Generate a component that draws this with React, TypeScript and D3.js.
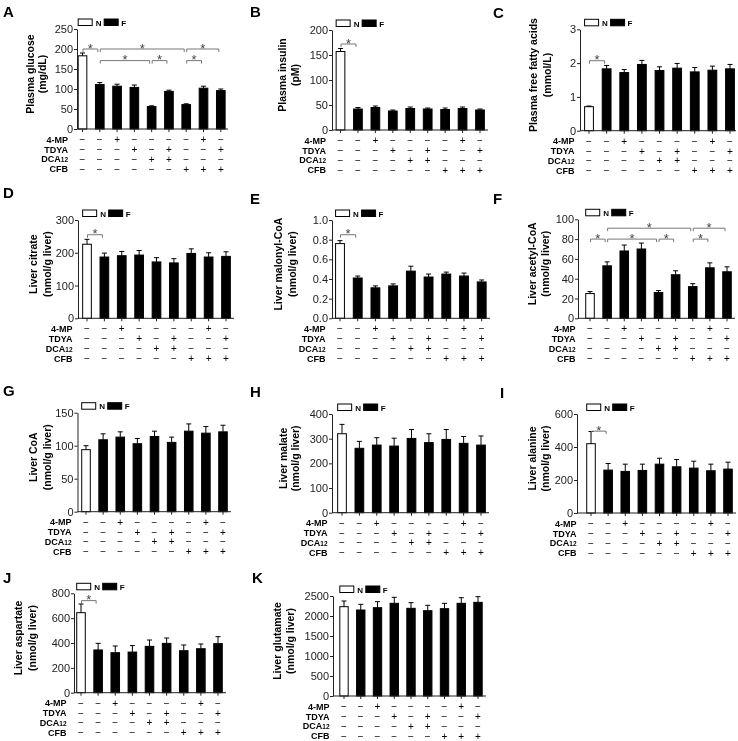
import { useEffect, useRef } from "react"
import * as d3 from "d3"

// treatment table (one entry per bar)
const treatmentNames = ["4-MP", "TDYA", "DCA", "CFB"]
const mp4 = ["−", "−", "+", "−", "−", "−", "−", "+", "−"]
const tdya = ["−", "−", "−", "+", "−", "+", "−", "−", "+"]
const dca12 = ["−", "−", "−", "−", "+", "+", "−", "−", "−"]
const cfb = ["−", "−", "−", "−", "−", "−", "+", "+", "+"]
const groups = ["N", "F", "F", "F", "F", "F", "F", "F", "F"]

// bar values and SEM
const glucose = [183, 111, 107, 104, 56, 94, 61, 102, 96]
const glucoseErr = [7, 5, 5, 6, 2, 3, 2, 5, 4]
const insulin = [157, 42, 45, 38, 43, 42, 41, 43, 40]
const insulinErr = [6, 3, 3, 2, 3, 2, 3, 3, 2]
const ffa = [0.71, 1.83, 1.72, 1.96, 1.78, 1.85, 1.74, 1.79, 1.83]
const ffaErr = [0.02, 0.1, 0.09, 0.12, 0.11, 0.14, 0.13, 0.12, 0.13]
const citrate = [226, 187, 191, 193, 172, 169, 198, 187, 189]
const citrateErr = [15, 12, 13, 14, 13, 13, 14, 13, 14]
const malonyl = [0.76, 0.41, 0.31, 0.33, 0.48, 0.42, 0.45, 0.43, 0.37]
const malonylErr = [0.03, 0.02, 0.02, 0.02, 0.05, 0.03, 0.02, 0.03, 0.02]
const acetyl = [25, 53, 68, 70, 26, 44, 32, 51, 47]
const acetylErr = [2, 4, 6, 6, 2, 4, 3, 5, 5]
const coa = [94, 109, 113, 103, 114, 105, 122, 119, 121]
const coaErr = [6, 9, 8, 8, 8, 8, 11, 10, 10]
const malate = [320, 261, 274, 270, 301, 284, 297, 281, 274]
const malateErr = [38, 28, 30, 32, 36, 36, 40, 28, 37]
const alanine = [420, 260, 252, 258, 296, 280, 272, 256, 266]
const alanineErr = [74, 40, 44, 38, 36, 44, 42, 40, 42]
const aspartate = [644, 344, 322, 327, 373, 397, 338, 354, 395]
const aspartateErr = [70, 53, 54, 52, 51, 43, 46, 38, 56]
const glutamate = [2233, 2150, 2208, 2317, 2192, 2133, 2183, 2317, 2342]
const glutamateErr = [142, 142, 150, 150, 141, 134, 134, 141, 141]

// significance brackets: [from bar, to bar, level in data units]
const glucoseSig = [[0, 1, 200], [1, 6, 200], [6, 8, 200], [1, 4, 171], [4, 5, 171], [6, 7, 171]]
const insulinSig = [[0, 1, 172]]
const ffaSig = [[0, 1, 2.07]]
const citrateSig = [[0, 1, 255]]
const malonylSig = [[0, 1, 0.85]]
const acetylSig = [[1, 6, 91], [6, 8, 91], [0, 1, 80], [1, 4, 80], [4, 5, 80], [6, 7, 80]]
const alanineSig = [[0, 1, 496]]
const aspartateSig = [[0, 1, 741]]

type Panel = {
  letter: string
  title: string[]
  values: number[]
  errors: number[]
  ticks: number[]
  fmt: string
  sig: number[][]
}

const panels: Panel[] = [
  { letter: "A", title: ["Plasma glucose", "(mg/dL)"], values: glucose, errors: glucoseErr, ticks: [0, 50, 100, 150, 200, 250], fmt: "d", sig: glucoseSig },
  { letter: "B", title: ["Plasma insulin", "(pM)"], values: insulin, errors: insulinErr, ticks: [0, 50, 100, 150, 200], fmt: "d", sig: insulinSig },
  { letter: "C", title: ["Plasma free fatty acids", "(mmol/L)"], values: ffa, errors: ffaErr, ticks: [0, 1, 2, 3], fmt: "d", sig: ffaSig },
  { letter: "D", title: ["Liver citrate", "(nmol/g liver)"], values: citrate, errors: citrateErr, ticks: [0, 100, 200, 300], fmt: "d", sig: citrateSig },
  { letter: "E", title: ["Liver malonyl-CoA", "(nmol/g liver)"], values: malonyl, errors: malonylErr, ticks: [0, 0.2, 0.4, 0.6, 0.8, 1.0], fmt: ".1f", sig: malonylSig },
  { letter: "F", title: ["Liver acetyl-CoA", "(nmol/g liver)"], values: acetyl, errors: acetylErr, ticks: [0, 20, 40, 60, 80, 100], fmt: "d", sig: acetylSig },
  { letter: "G", title: ["Liver CoA", "(nmol/g liver)"], values: coa, errors: coaErr, ticks: [0, 50, 100, 150], fmt: "d", sig: [] },
  { letter: "H", title: ["Liver malate", "(nmol/g liver)"], values: malate, errors: malateErr, ticks: [0, 100, 200, 300, 400], fmt: "d", sig: [] },
  { letter: "I", title: ["Liver alanine", "(nmol/g liver)"], values: alanine, errors: alanineErr, ticks: [0, 200, 400, 600], fmt: "d", sig: alanineSig },
  { letter: "J", title: ["Liver aspartate", "(nmol/g liver)"], values: aspartate, errors: aspartateErr, ticks: [0, 200, 400, 600, 800], fmt: "d", sig: aspartateSig },
  { letter: "K", title: ["Liver glutamate", "(nmol/g liver)"], values: glutamate, errors: glutamateErr, ticks: [0, 500, 1000, 1500, 2000, 2500], fmt: "d", sig: [] },
]

// where each panel sits on the page
const layouts = [
  { ax: 77, top: 29, bottom: 129, c0: 82.5, cN: 220.8, xEnd: 228, t1: 30, t2: 42, lx: 3, ly: 17 },
  { ax: 332, top: 30, bottom: 130, c0: 340.5, cN: 480, xEnd: 488, t1: 282, t2: 295, lx: 250, ly: 17 },
  { ax: 580, top: 29.3, bottom: 130.7, c0: 589, cN: 730, xEnd: 736, t1: 533, t2: 547, lx: 493, ly: 18 },
  { ax: 78, top: 220, bottom: 318.3, c0: 87, cN: 226, xEnd: 234, t1: 33, t2: 47, lx: 3, ly: 198 },
  { ax: 332, top: 220, bottom: 318.3, c0: 340, cN: 481.7, xEnd: 490, t1: 278, t2: 292, lx: 250, ly: 204 },
  { ax: 578, top: 219.3, bottom: 318.3, c0: 590, cN: 727, xEnd: 735, t1: 532, t2: 545, lx: 493, ly: 204 },
  { ax: 77.5, top: 412.7, bottom: 511.7, c0: 86, cN: 223, xEnd: 231, t1: 33, t2: 47, lx: 3, ly: 396 },
  { ax: 332, top: 414, bottom: 512.7, c0: 342, cN: 481, xEnd: 489, t1: 283, t2: 295, lx: 250, ly: 397 },
  { ax: 577, top: 414, bottom: 513, c0: 591, cN: 728, xEnd: 736, t1: 532, t2: 545, lx: 500, ly: 398 },
  { ax: 74, top: 593.3, bottom: 692.7, c0: 81, cN: 218, xEnd: 226, t1: 18, t2: 32, lx: 3, ly: 583 },
  { ax: 333, top: 596, bottom: 696, c0: 344, cN: 478, xEnd: 486, t1: 277, t2: 290, lx: 252, ly: 583 },
]

const FONT = "'Liberation Sans', Arial, Helvetica, sans-serif"
const rowOffsets = [10.5, 20.5, 30, 40]

const App = () => {
  const svgRef = useRef<SVGSVGElement | null>(null)

  useEffect(() => {
    const svg = d3.select(svgRef.current)
    svg.selectAll("*").remove()
    const table = [mp4, tdya, dca12, cfb]

    panels.forEach((p, pi) => {
      const L = layouts[pi]
      const g = svg.append("g").attr("font-family", FONT)
      const n = p.values.length
      const step = (L.cN - L.c0) / (n - 1)

      const x = d3.scaleBand<number>()
        .domain(d3.range(n))
        .range([L.c0 - step / 2, L.cN + step / 2])
        .paddingInner(0.5)
        .paddingOuter(0.25)
      const bw = x.bandwidth()
      const cx = (i: number) => (x(i) as number) + bw / 2

      const y = d3.scaleLinear()
        .domain([0, p.ticks[p.ticks.length - 1]])
        .range([L.bottom, L.top])

      // panel letter
      g.append("text")
        .attr("x", L.lx).attr("y", L.ly)
        .attr("font-size", 15).attr("font-weight", "bold")
        .text(p.letter)

      // y title
      const ym = (L.top + L.bottom) / 2 - 5
      ;[L.t1, L.t2].forEach((tx, k) => {
        g.append("text")
          .attr("transform", `translate(${tx},${ym}) rotate(-90)`)
          .attr("text-anchor", "middle")
          .attr("dominant-baseline", "central")
          .attr("font-size", 10.5).attr("font-weight", "bold")
          .text(p.title[k])
      })

      // bars
      g.selectAll("rect.bar")
        .data(p.values)
        .enter()
        .append("rect")
        .attr("class", "bar")
        .attr("x", (_, i) => x(i) as number)
        .attr("y", d => y(d))
        .attr("width", bw)
        .attr("height", d => y(0) - y(d))
        .attr("fill", (_, i) => groups[i] === "N" ? "#fff" : "#000")
        .attr("stroke", "#000")
        .attr("stroke-width", 1)

      // error bars (upper only)
      p.values.forEach((v, i) => {
        const top = y(v + p.errors[i])
        g.append("path")
          .attr("d", `M${cx(i)},${y(v)}V${top}M${cx(i) - 2.5},${top}H${cx(i) + 2.5}`)
          .attr("stroke", "#000").attr("fill", "none")
      })

      // y axis
      const yAxis = g.append("g")
        .attr("transform", `translate(${L.ax},0)`)
        .call(d3.axisLeft(y).tickValues(p.ticks).tickSize(3).tickSizeOuter(0).tickPadding(1)
          .tickFormat(d3.format(p.fmt) as any))
      yAxis.selectAll("text").attr("font-size", 11).attr("font-family", FONT).attr("fill", "#222")
      yAxis.selectAll("line,path").attr("stroke", "#222")

      // x axis line with ticks under bars
      g.append("line")
        .attr("x1", L.ax).attr("x2", L.xEnd)
        .attr("y1", L.bottom).attr("y2", L.bottom)
        .attr("stroke", "#222")
      g.selectAll("line.xt")
        .data(d3.range(n))
        .enter()
        .append("line")
        .attr("class", "xt")
        .attr("x1", i => cx(i)).attr("x2", i => cx(i))
        .attr("y1", L.bottom).attr("y2", L.bottom + 3)
        .attr("stroke", "#222")

      // treatment table
      table.forEach((row, r) => {
        const ty = L.bottom + rowOffsets[r] + 3.2
        const lab = g.append("text")
          .attr("x", L.c0 - 14.5).attr("y", ty)
          .attr("text-anchor", "end")
          .attr("font-size", 9).attr("font-weight", "bold")
        lab.append("tspan").text(treatmentNames[r])
        if (r === 2) lab.append("tspan").attr("font-size", 6.5).text("12")
        row.forEach((s, i) => {
          g.append("text")
            .attr("x", cx(i)).attr("y", ty + 0.3)
            .attr("text-anchor", "middle")
            .attr("font-size", 10)
            .attr("fill", "#000")
            .text(s)
        })
      })

      // legend
      const lx0 = x(0) as number
      const ly0 = L.top - 10
      g.append("rect").attr("x", lx0).attr("y", ly0).attr("width", 14).attr("height", 6.5)
        .attr("fill", "#fff").attr("stroke", "#000")
      g.append("text").attr("x", lx0 + 17.5).attr("y", ly0 + 6.5)
        .attr("font-size", 8).attr("font-weight", "bold").text("N")
      g.append("rect").attr("x", lx0 + 26).attr("y", ly0).attr("width", 14).attr("height", 6.5)
        .attr("fill", "#000").attr("stroke", "#000")
      g.append("text").attr("x", lx0 + 43).attr("y", ly0 + 6.5)
        .attr("font-size", 8).attr("font-weight", "bold").text("F")

      // significance brackets
      p.sig.forEach(([a, b, level]) => {
        const ly = y(level)
        const x1 = cx(a) + 0.5
        const x2 = cx(b) - 2
        g.append("path")
          .attr("d", `M${x1},${ly + 3}V${ly}H${x2}V${ly + 3}`)
          .attr("stroke", "#777").attr("fill", "none")
        g.append("text")
          .attr("x", (x1 + x2) / 2).attr("y", ly + 3.5)
          .attr("text-anchor", "middle")
          .attr("font-size", 13).attr("fill", "#444")
          .text("*")
      })
    })
  }, [])

  return (
    <svg
      ref={svgRef}
      width={738}
      height={741}
      style={{ position: "absolute", left: 0, top: 0, willChange: "transform" }}
    ></svg>
  )
}

export default App
